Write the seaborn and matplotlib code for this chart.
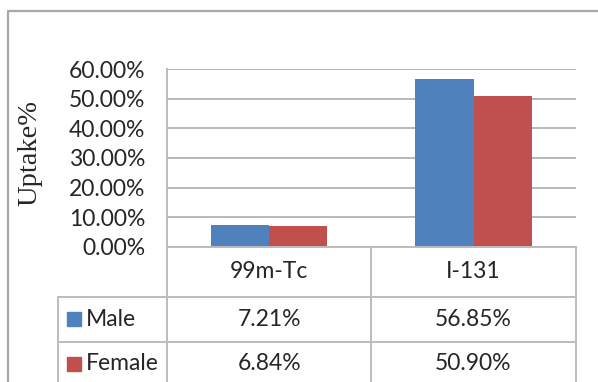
import matplotlib
matplotlib.use("Agg")
import matplotlib.pyplot as plt
import matplotlib.transforms as mtransforms
from matplotlib.lines import Line2D
from matplotlib.ticker import FuncFormatter
import pandas as pd
import seaborn as sns

# Uptake values (%) per isotope and sex
categories = ["99m-Tc", "I-131"]
series = ["Male", "Female"]
male = [7.21, 56.85]
female = [6.84, 50.90]
y_ticks = [0, 10, 20, 30, 40, 50, 60]
y_label = "Uptake%"

colors = ["#4F81BD", "#C0504D"]
grid_col = "#b8b8b8"
frame_col = "#bcbcbc"
text_col = "#262626"
sans = ["Lato", "DejaVu Sans"]
serif = ["Liberation Serif", "DejaVu Serif"]

df = pd.DataFrame({
    "isotope": categories * 2,
    "sex": [series[0]] * len(categories) + [series[1]] * len(categories),
    "uptake": male + female,
})

sns.set_theme(style="white")
plt.rcParams["font.family"] = sans

W, H = 598, 382
fig = plt.figure(figsize=(W / 100, H / 100), dpi=100)
# plot area in pixel terms: x 167..576, y 69..247 (from top)
ax = fig.add_axes([167 / W, 1 - 246.7 / H, (575.7 - 167) / W, (246.7 - 69.3) / H])

sns.barplot(data=df, x="isotope", y="uptake", hue="sex", hue_order=series,
            order=categories, palette=colors, width=0.57, saturation=1,
            linewidth=0, legend=False, ax=ax)

ax.set_ylim(0, 60)
ax.set_xlim(-0.5, len(categories) - 0.5)
ax.set_yticks(y_ticks)
ax.yaxis.set_major_formatter(FuncFormatter(lambda v, _: f"{v:.2f}%"))
ax.tick_params(axis="y", length=0, pad=15.5, labelsize=16.5, labelcolor=text_col)
ax.set_xticks([])
ax.set_xlabel("")
ax.grid(axis="y", color=grid_col, linewidth=1.4)
ax.set_axisbelow(True)
for side in ["top", "right"]:
    ax.spines[side].set_visible(False)
for side in ["left", "bottom"]:
    ax.spines[side].set_color(frame_col)
    ax.spines[side].set_linewidth(1.4)

ax.set_ylabel(y_label, fontsize=20.5, family=serif, color=text_col)
ax.yaxis.set_label_coords(-0.335, 0.53)
ax.yaxis.label.set_va("center")

# data table below the plot area (axes-fraction rows)
ax_h = 246.7 - 69.3
ax_w = 575.7 - 167
rows = [0, -50 / ax_h, -95 / ax_h, -139.5 / ax_h]
legend_left = (58.4 - 167) / ax_w

def hline(x0, x1, y):
    ax.add_line(Line2D([x0, x1], [y, y], transform=ax.transAxes, color=frame_col,
                       linewidth=1.4, clip_on=False))

def vline(x, y0, y1):
    ax.add_line(Line2D([x, x], [y0, y1], transform=ax.transAxes, color=frame_col,
                       linewidth=1.4, clip_on=False))

for y in rows[1:]:
    hline(legend_left, 1, y)
vline(0, rows[0], rows[-1])
vline(legend_left, rows[1], rows[-1])
vline(1, rows[0], rows[-1])
for i in range(len(categories) - 1):
    vline((i + 1) / len(categories), rows[0], rows[-1])

blend = mtransforms.blended_transform_factory(ax.transData, ax.transAxes)
row_mid = [(rows[i] + rows[i + 1]) / 2 for i in range(3)]
for i, cat in enumerate(categories):
    ax.text(i, row_mid[0], cat, transform=blend, ha="center", va="center",
            fontsize=16.5, color=text_col, clip_on=False)
for r, (name, vals, col) in enumerate(zip(series, [male, female], colors)):
    y = row_mid[r + 1]
    ax.plot([(74 - 167) / ax_w], [y], marker="s", markersize=10, color=col,
            transform=ax.transAxes, clip_on=False, linestyle="none")
    ax.text((86 - 167) / ax_w, y, name, transform=ax.transAxes, ha="left",
            va="center", fontsize=16.5, color=text_col, clip_on=False)
    for i, v in enumerate(vals):
        ax.text(i, y, f"{v:.2f}%", transform=blend, ha="center", va="center",
                fontsize=16.5, color=text_col, clip_on=False)

# chart-area frame (left and top edges)
fig.add_artist(Line2D([8 / W, 8 / W, 1.0], [0.0, 1 - 10.5 / H, 1 - 10.5 / H],
                      transform=fig.transFigure, color="#a8a8a8", linewidth=1.6))

fig.savefig("out.png", dpi=100, facecolor="white")
